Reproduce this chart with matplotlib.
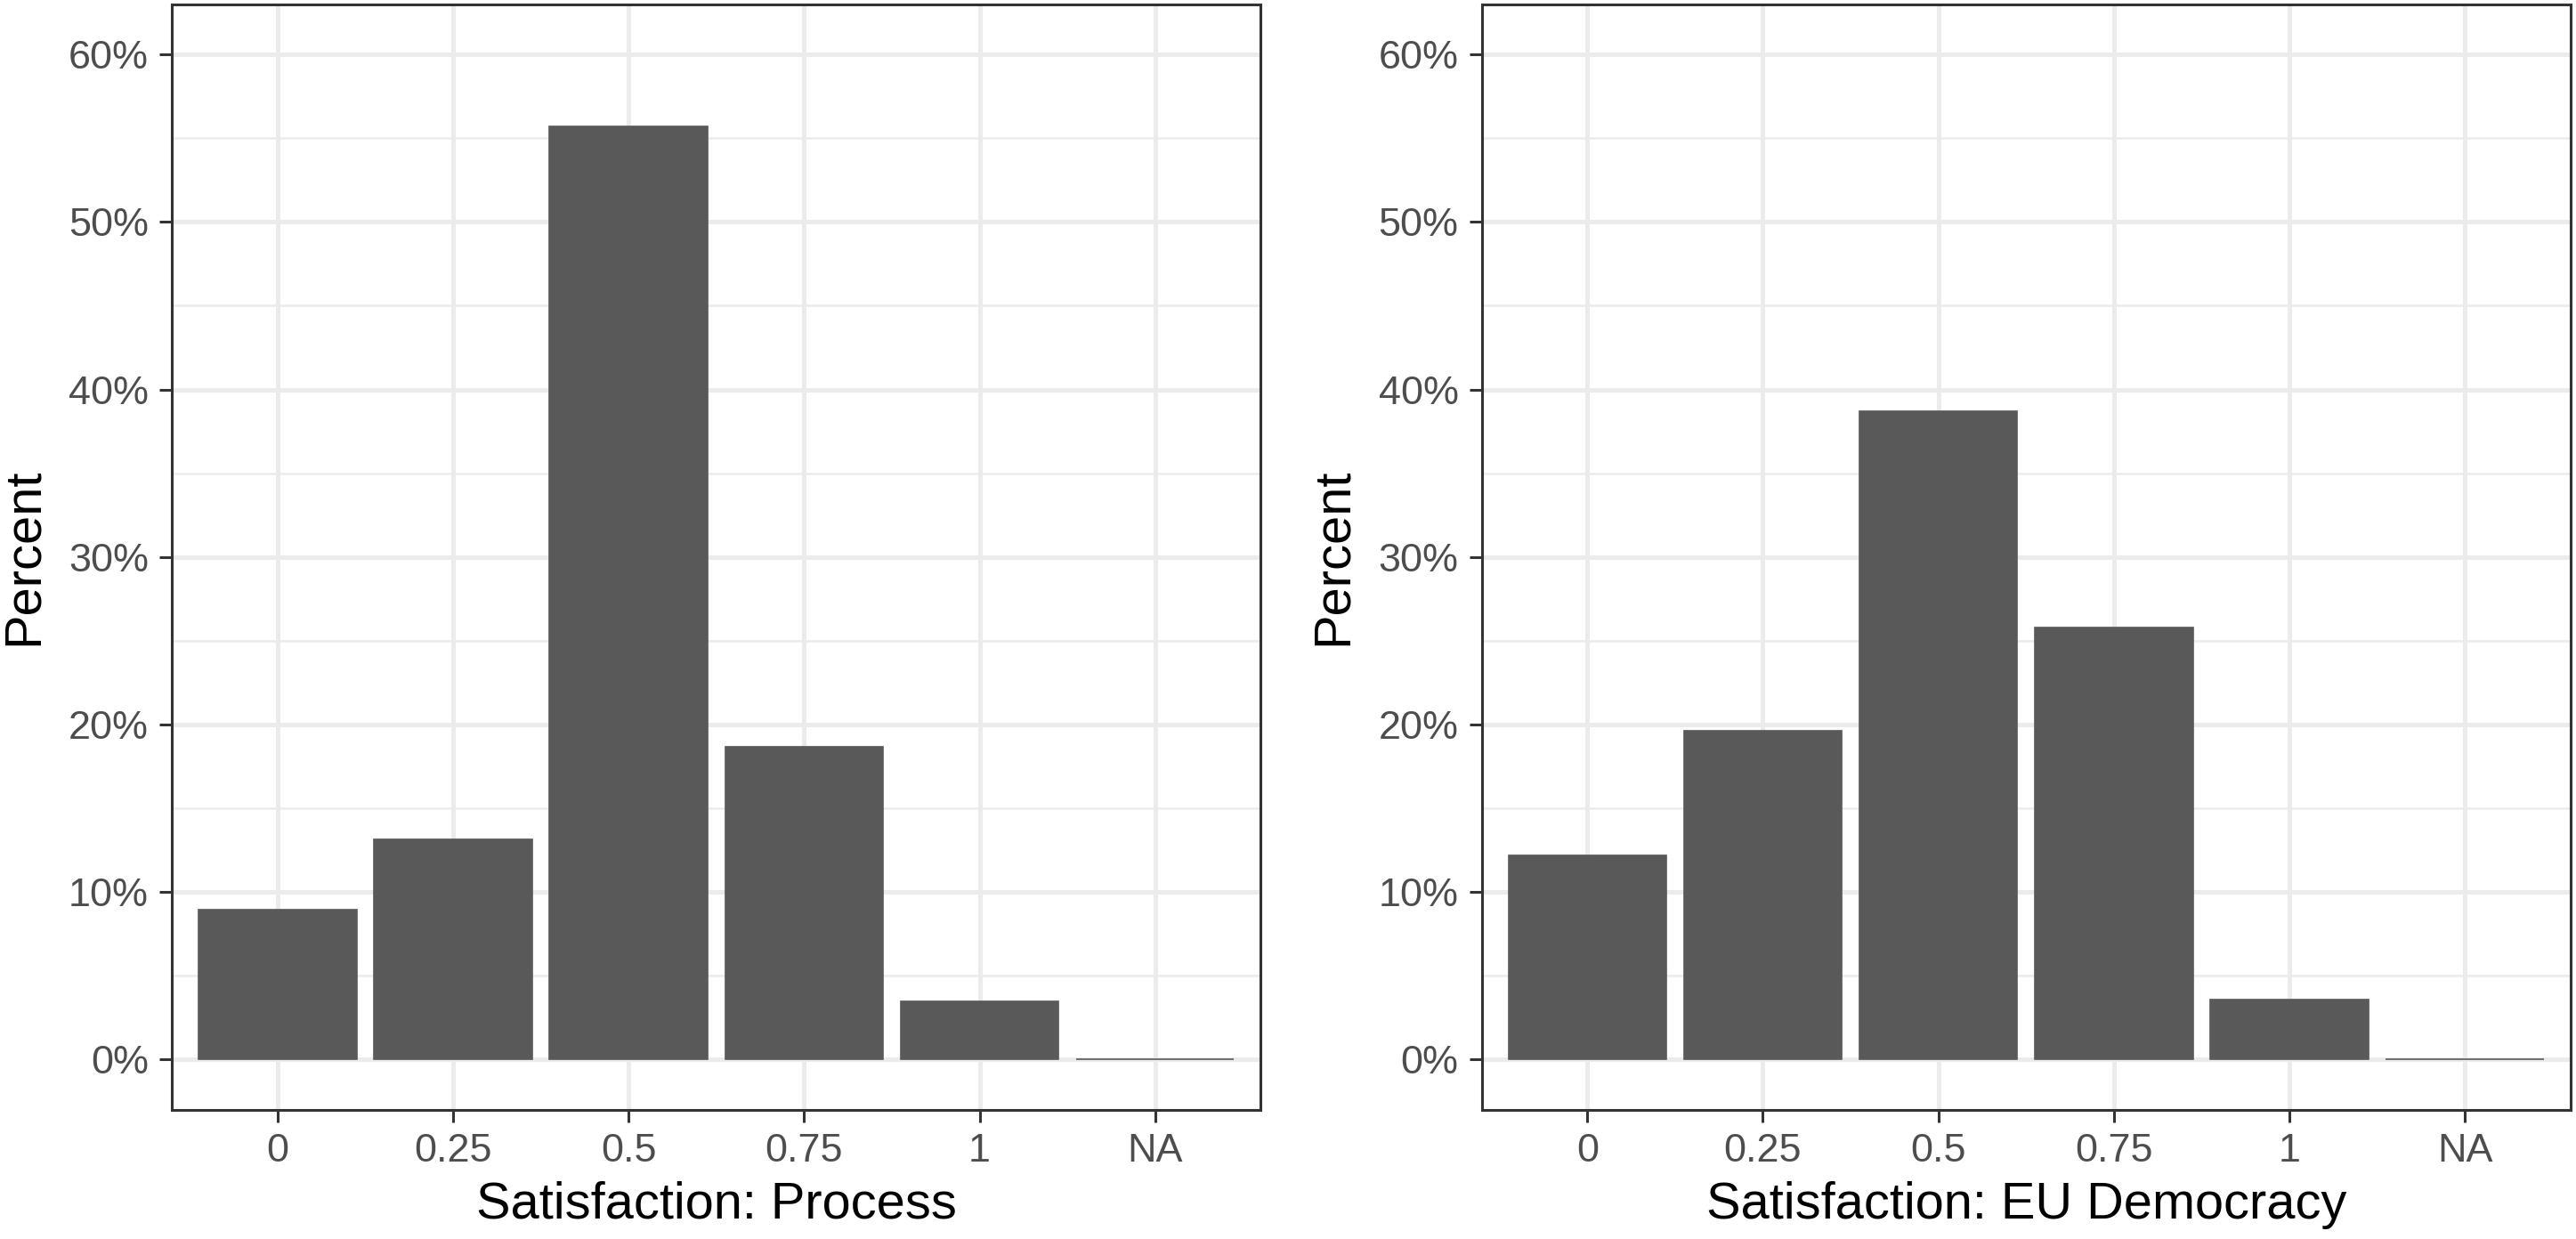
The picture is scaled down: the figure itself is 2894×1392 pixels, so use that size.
import matplotlib.pyplot as plt
from matplotlib.ticker import FixedLocator, FuncFormatter

plt.rcParams['font.family'] = ['Liberation Sans', 'DejaVu Sans']

categories = ['0', '0.25', '0.5', '0.75', '1', 'NA']
process_pct = [8.95, 13.14, 55.68, 18.65, 3.49, 0.0]
eu_democracy_pct = [12.2, 19.64, 38.72, 25.77, 3.58, 0.0]
xlabels = ['Satisfaction: Process', 'Satisfaction: EU Democracy']
yticks = [0, 10, 20, 30, 40, 50, 60]
yminor = [5, 15, 25, 35, 45, 55]

fig = plt.figure(figsize=(14.47, 6.96), dpi=200)
ax1 = fig.add_axes([0.06686, 0.10438, 0.42243, 0.89224])
ax2 = fig.add_axes([0.57533, 0.10438, 0.42243, 0.89224])

for ax, vals, xl in zip([ax1, ax2], [process_pct, eu_democracy_pct], xlabels):
    x = list(range(1, len(categories) + 1))
    ax.bar(x, vals, width=0.9, color='#595959', edgecolor='#595959',
           linewidth=0.6, zorder=3)
    ax.set_xlim(0.4, 6.6)
    ax.set_ylim(-3, 63)
    ax.set_xticks(x)
    ax.set_xticklabels(categories)
    ax.yaxis.set_major_locator(FixedLocator(yticks))
    ax.yaxis.set_minor_locator(FixedLocator(yminor))
    ax.yaxis.set_major_formatter(FuncFormatter(lambda v, p: f'{int(v)}%'))
    ax.grid(which='major', color='#EBEBEB', linewidth=1.8, zorder=0)
    ax.grid(which='minor', axis='y', color='#EBEBEB', linewidth=0.9, zorder=0)
    ax.set_axisbelow(True)
    ax.tick_params(which='major', length=5, width=1.1, color='#333333',
                   labelsize=16.2, labelcolor='#4D4D4D', pad=4.5)
    ax.tick_params(which='minor', length=0)
    for s in ax.spines.values():
        s.set_color('#333333')
        s.set_linewidth(1.1)
    ax.set_xlabel(xl, fontsize=20.8, labelpad=4.5)
    ax.set_ylabel('Percent', fontsize=20.8, labelpad=8.5)

fig.savefig('out.png', dpi=200, facecolor='white')
